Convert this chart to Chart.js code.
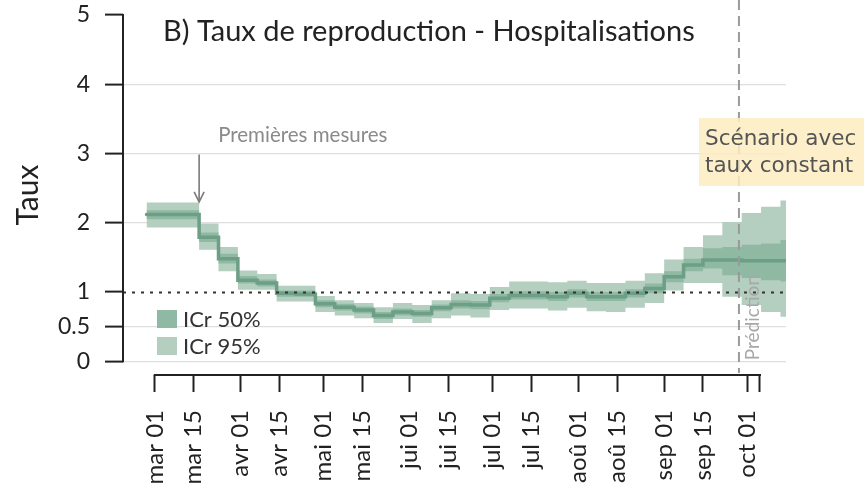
<!DOCTYPE html>
<html><head><meta charset="utf-8">
<script src="https://cdn.jsdelivr.net/npm/chart.js@4.4.1/dist/chart.umd.min.js"></script>
<style>html,body{margin:0;padding:0;background:#fff}#wrap{width:864px;height:485px;position:relative}</style>
</head><body><div id="wrap"><canvas id="c" width="864" height="485"></canvas></div>
<script>
// days counted from 1 March 2020 (day 0); each value holds from its start day to the next
const stepStarts = [-3,16,23,30,37,44,51,58,65,72,79,86,93,100,107,114,121,128,135,142,149,156,163,170,177,184,191,198,205,212,219,226,228];
const median = [2.12,1.79,1.48,1.17,1.13,0.98,0.97,0.83,0.78,0.74,0.66,0.71,0.69,0.77,0.82,0.81,0.91,0.95,0.95,0.93,0.98,0.93,0.93,0.98,1.05,1.22,1.39,1.46,1.46,1.45,1.45,1.45];
const lo50 = [2.05,1.72,1.41,1.12,1.08,0.93,0.93,0.78,0.73,0.69,0.61,0.66,0.64,0.72,0.76,0.75,0.85,0.89,0.89,0.87,0.92,0.87,0.87,0.92,0.98,1.14,1.30,1.34,1.24,1.20,1.17,1.15];
const hi50 = [2.18,1.86,1.55,1.23,1.18,1.02,1.02,0.88,0.83,0.79,0.71,0.76,0.74,0.82,0.88,0.87,0.97,1.01,1.01,1.00,1.04,1.00,1.00,1.04,1.12,1.30,1.48,1.63,1.65,1.68,1.70,1.75];
const lo95 = [1.93,1.61,1.30,1.03,1.03,0.86,0.86,0.71,0.66,0.62,0.55,0.61,0.55,0.62,0.66,0.63,0.74,0.76,0.76,0.73,0.77,0.72,0.71,0.77,0.84,1.02,1.13,1.13,0.93,0.81,0.71,0.64];
const hi95 = [2.29,1.99,1.65,1.31,1.26,1.09,1.09,0.94,0.88,0.84,0.78,0.84,0.81,0.88,0.98,0.97,1.07,1.15,1.15,1.14,1.16,1.13,1.13,1.16,1.27,1.47,1.65,1.82,2.01,2.14,2.23,2.32];
const xTickDays = [0,14,31,45,61,75,92,106,122,136,153,167,184,198,214,218.6];
const xTickLabels = ['mar 01','mar 15','avr 01','avr 15','mai 01','mai 15','jui 01','jui 15','jul 01','jul 15','aoû 01','aoû 15','sep 01','sep 15','oct 01',''];
const yTickValues = [0,0.5,1,2,3,4,5];
const refLine = 1;
const predictionDay = 211;
const firstMeasuresDay = 16;

const pts = arr => stepStarts.map((d,i)=>({x:d, y:arr[Math.min(i, arr.length-1)]}));
const C95 = '#b4cec0', C50 = '#8fb9a3', CMED = '#6c9f86';
const FONT = 'Lato';

const overlay = {
  id:'overlay',
  afterDatasetsDraw(chart){
    const {ctx, chartArea:a, scales:{x,y}} = chart;
    ctx.save();
    // reference line at 1
    ctx.strokeStyle='#333'; ctx.lineWidth=1.8; ctx.setLineDash([3,6]);
    const y1 = Math.round(y.getPixelForValue(refLine))+0.5;
    ctx.beginPath(); ctx.moveTo(a.left,y1); ctx.lineTo(a.right,y1); ctx.stroke();
    // prediction vertical
    const px = x.getPixelForValue(predictionDay);
    ctx.strokeStyle='#9a9a9a'; ctx.lineWidth=2; ctx.setLineDash([10,6]);
    ctx.beginPath(); ctx.moveTo(px,0); ctx.lineTo(px,a.bottom-2); ctx.stroke();
    ctx.setLineDash([]);
    // scenario box
    ctx.fillStyle='rgba(253,236,192,0.85)';
    ctx.fillRect(699,118,165,68);
    ctx.fillStyle='#555'; ctx.font='21.5px "DejaVu Sans"'; ctx.textBaseline='middle'; ctx.textAlign='left';
    ctx.fillText('Scénario avec',705,139);
    ctx.fillText('taux constant',705,166);
    // Prédiction label
    ctx.save(); ctx.translate(px+14, y.getPixelForValue(0)-1); ctx.rotate(-Math.PI/2);
    ctx.fillStyle='#a8a8a8'; ctx.font='19px '+FONT; ctx.textAlign='left'; ctx.textBaseline='middle';
    ctx.fillText('Prédiction',0,0); ctx.restore();
    // range-frame axes
    ctx.strokeStyle='#222'; ctx.lineWidth=2;
    ctx.beginPath(); ctx.moveTo(a.left, y.getPixelForValue(0)+1); ctx.lineTo(a.left, y.getPixelForValue(5)-1); ctx.stroke();
    ctx.beginPath(); ctx.moveTo(x.getPixelForValue(xTickDays[0])-1, a.bottom); ctx.lineTo(x.getPixelForValue(xTickDays[xTickDays.length-1])+1, a.bottom); ctx.stroke();
    // title
    ctx.fillStyle='#222'; ctx.font='29px '+FONT; ctx.textAlign='left'; ctx.textBaseline='middle';
    ctx.fillText('B) Taux de reproduction - Hospitalisations',163,32);
    // first measures annotation
    const ax = x.getPixelForValue(firstMeasuresDay);
    const ay0 = y.getPixelForValue(3)+1, ay1 = y.getPixelForValue(2.3);
    ctx.strokeStyle='#7a7a7a'; ctx.lineWidth=1.6;
    ctx.beginPath(); ctx.moveTo(ax,ay0); ctx.lineTo(ax,ay1); ctx.stroke();
    ctx.beginPath(); ctx.moveTo(ax-5,ay1-10); ctx.lineTo(ax,ay1); ctx.lineTo(ax+5,ay1-10); ctx.stroke();
    ctx.fillStyle='#8a8a8a'; ctx.font='20.5px '+FONT; ctx.textBaseline='middle';
    ctx.fillText('Premières mesures',ax+19,ay0-19);
    // legend
    ctx.fillStyle=C50; ctx.fillRect(157,310,20,18);
    ctx.fillStyle=C95; ctx.fillRect(157,337,20,18);
    ctx.fillStyle='#333'; ctx.font='22px '+FONT;
    ctx.fillText('ICr 50%',183,320);
    ctx.fillText('ICr 95%',183,347);
    ctx.restore();
  }
};

new Chart(document.getElementById('c'), {
  type:'line',
  data:{datasets:[
    {label:'médiane', data:pts(median), borderColor:CMED, borderWidth:3.5, borderCapStyle:'round', pointRadius:0, stepped:'before', fill:false},
    {label:'ICr 50% haut', data:pts(hi50), borderWidth:0, borderColor:'rgba(0,0,0,0)', backgroundColor:C50, pointRadius:0, stepped:'before', fill:'+1'},
    {label:'ICr 50% bas', data:pts(lo50), borderWidth:0, borderColor:'rgba(0,0,0,0)', pointRadius:0, stepped:'before', fill:false},
    {label:'ICr 95% haut', data:pts(hi95), borderWidth:0, borderColor:'rgba(0,0,0,0)', backgroundColor:C95, pointRadius:0, stepped:'before', fill:'+1'},
    {label:'ICr 95% bas', data:pts(lo95), borderWidth:0, borderColor:'rgba(0,0,0,0)', pointRadius:0, stepped:'before', fill:false}
  ]},
  options:{
    responsive:false, animation:false, devicePixelRatio:1,
    layout:{padding:{left:0,right:78,top:15,bottom:0}},
    plugins:{legend:{display:false}, tooltip:{enabled:false}},
    scales:{
      x:{type:'linear', min:-11.5, max:228,
        afterBuildTicks:s=>{s.ticks = xTickDays.map(v=>({value:v}));},
        afterFit:s=>{s.height=110; s.paddingLeft=0; s.paddingRight=0;},
        ticks:{autoSkip:false, minRotation:90, maxRotation:90, padding:18, color:'#222', font:{family:FONT,size:24},
          callback:(v,i)=>xTickLabels[i]},
        grid:{display:true, drawOnChartArea:false, drawTicks:true, tickLength:17, tickColor:'#222', tickWidth:2},
        border:{display:false}
      },
      y:{min:-0.2, max:5,
        afterBuildTicks:s=>{s.ticks = yTickValues.map(v=>({value:v}));},
        afterFit:s=>{s.width=123; s.paddingTop=15; s.paddingBottom=0;},
        ticks:{padding:15, color:'#222', font:{family:FONT,size:23}, callback:v=>String(v)},
        grid:{color:c=>(c.tick && (c.tick.value===1||c.tick.value===5))?'rgba(0,0,0,0)':'#dedede', lineWidth:1.2,
          drawTicks:true, tickLength:18, tickColor:'#222', tickWidth:2},
        border:{display:false},
        title:{display:true, text:'Taux', color:'#222', font:{family:FONT,size:30}, padding:{top:10,bottom:0}}
      }
    }
  },
  plugins:[overlay]
});
</script></body></html>
